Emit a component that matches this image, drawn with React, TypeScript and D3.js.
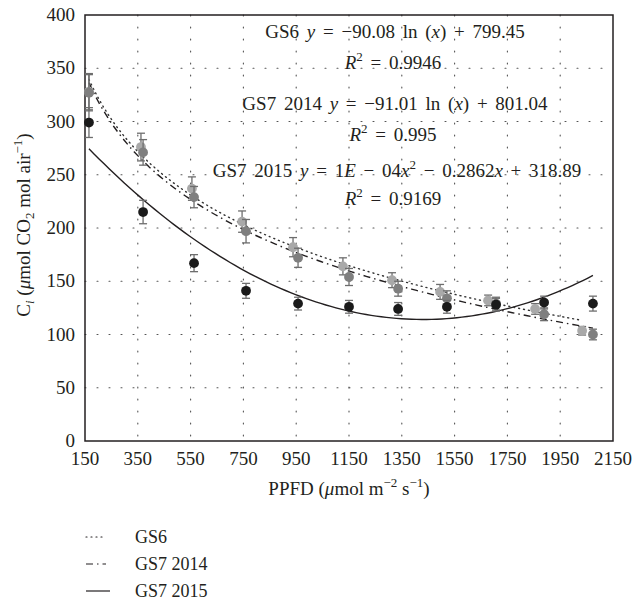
import React from "react";
import * as d3 from "d3";

const gs6X = [165, 362, 555, 745, 938, 1127, 1313, 1495, 1677, 1855, 2033];
const gs6Y = [328, 276, 237, 206, 182, 164, 151, 140, 132, 124, 103.5];
const gs6Err = [17, 13, 11, 10, 9, 8, 7, 7, 5, 5, 4];

const gs714X = [165, 370, 563, 760, 957, 1150, 1336, 1521, 1707, 1889, 2074];
const gs714Y = [327, 271, 229, 197, 172, 154, 143, 134, 129, 119, 100];
const gs714Err = [17, 12, 10, 11, 9, 8, 7, 7, 6, 6, 5];

const gs715X = [165, 370, 563, 760, 957, 1150, 1336, 1521, 1707, 1889, 2074];
const gs715Y = [299, 215, 167, 141, 129, 126, 124, 126, 128, 130, 129];
const gs715Err = [14, 11, 8, 7, 6, 6, 6, 6, 6, 6, 7];

const xTicks = [150, 350, 550, 750, 950, 1150, 1350, 1550, 1750, 1950, 2150];
const yTicks = [0, 50, 100, 150, 200, 250, 300, 350, 400];

const legendLabels = ["GS6", "GS7 2014", "GS7 2015"];

const W = 635, H = 603;
const L = 85, R = 613, T = 15, B = 441;
const FONT = "Liberation Serif";
const INK = "#231f20";

const Sup = ({ children }: { children: React.ReactNode }) => (
  <tspan fontSize={13} dy={-8}>{children}</tspan>
);

export default function App() {
  const x = d3.scaleLinear().domain([150, 2150]).range([L, R]);
  const y = d3.scaleLinear().domain([0, 400]).range([B, T]);

  const fit6 = (v: number) => -90.08 * Math.log(v) + 799.45;
  const fit714 = (v: number) => -91.01 * Math.log(v) + 801.04;
  const fit715 = (v: number) => 1e-4 * v * v - 0.2862 * v + 318.89;

  const sample = (f: (v: number) => number, a: number, b: number) =>
    d3.range(0, 101).map((i) => {
      const v = a + ((b - a) * i) / 100;
      return [v, f(v)] as [number, number];
    });
  const line = d3
    .line<[number, number]>()
    .x((d) => x(d[0]))
    .y((d) => y(d[1]));

  const series = [
    { xs: gs6X, ys: gs6Y, es: gs6Err, fill: "#a9a9a9" },
    { xs: gs714X, ys: gs714Y, es: gs714Err, fill: "#7f7f7f" },
    { xs: gs715X, ys: gs715Y, es: gs715Err, fill: "#1a1a1a" },
  ];

  const gridStyle = { stroke: "#555", strokeWidth: 1.1, strokeDasharray: "1 11", strokeLinecap: "round" as const };
  const tp = { fontFamily: FONT, fontSize: 19, fill: INK };
  const eq = { ...tp, wordSpacing: 3 };

  return (
    <svg width={W} height={H} style={{ position: "absolute", left: 0, top: 0, background: "#fff" }}>
      {yTicks.slice(1, -1).map((t) => (
        <line key={"h" + t} x1={L} x2={R} y1={y(t)} y2={y(t)} style={gridStyle} />
      ))}
      {xTicks.slice(1, -1).map((t) => (
        <line key={"v" + t} x1={x(t)} x2={x(t)} y1={T} y2={B} style={gridStyle} />
      ))}
      <rect x={L} y={T} width={R - L} height={B - T} fill="none" stroke={INK} strokeWidth={1.5} />

      {yTicks.map((t) => (
        <text key={"yt" + t} x={L - 10} y={y(t) + 6} textAnchor="end" {...tp}>
          {t}
        </text>
      ))}
      {xTicks.map((t) => (
        <text key={"xt" + t} x={x(t)} y={465} textAnchor="middle" {...tp}>
          {t}
        </text>
      ))}

      <text x={(L + R) / 2} y={495} textAnchor="middle" {...tp}>
        {"PPFD ("}<tspan fontStyle="italic">μ</tspan>{"mol m"}<Sup>−2</Sup><tspan dy={8}>{" s"}</tspan><Sup>−1</Sup><tspan dy={8}>{")"}</tspan>
      </text>
      <text transform={`translate(30, ${(T + B) / 2 - 3}) rotate(-90)`} textAnchor="middle" {...tp}>
        {"C"}<tspan fontSize={13} fontStyle="italic" dy={4}>i</tspan><tspan dy={-4}>{" ("}</tspan><tspan fontStyle="italic">μ</tspan>{"mol CO"}<tspan fontSize={13} dy={4}>2</tspan><tspan dy={-4}>{" mol air"}</tspan><Sup>−1</Sup><tspan dy={8}>{")"}</tspan>
      </text>

      <path d={line(sample(fit715, 165, 2074)) || ""} fill="none" stroke={INK} strokeWidth={1.4} />
      <path
        d={line(sample(fit6, 165, 2033)) || ""}
        fill="none"
        stroke="#333"
        strokeWidth={1.4}
        strokeDasharray="1 4"
        strokeLinecap="round"
      />
      <path
        d={line(sample(fit714, 165, 2074)) || ""}
        fill="none"
        stroke={INK}
        strokeWidth={1.4}
        strokeDasharray="7 4 1.5 4"
      />

      {series.map((s, si) => (
        <g key={"s" + si}>
          {s.xs.map((xv, i) => {
            const cx = x(xv);
            const y1 = y(s.ys[i] + s.es[i]);
            const y2 = y(s.ys[i] - s.es[i]);
            return (
              <g key={i}>
                <line x1={cx} x2={cx} y1={y1} y2={y2} stroke="#6d6d6d" strokeWidth={1.3} />
                <line x1={cx - 4} x2={cx + 4} y1={y1} y2={y1} stroke="#6d6d6d" strokeWidth={1.3} />
                <line x1={cx - 4} x2={cx + 4} y1={y2} y2={y2} stroke="#6d6d6d" strokeWidth={1.3} />
                <circle cx={cx} cy={y(s.ys[i])} r={4.9} fill={s.fill} />
              </g>
            );
          })}
        </g>
      ))}

      <text x={395} y={38} textAnchor="middle" {...eq}>
        {"GS6 "}<tspan fontStyle="italic">y</tspan>{" = −90.08 ln ("}<tspan fontStyle="italic">x</tspan>{") + 799.45"}
      </text>
      <text x={393} y={69} textAnchor="middle" {...eq}>
        <tspan fontStyle="italic">R</tspan><Sup>2</Sup><tspan dy={8}>{" = 0.9946"}</tspan>
      </text>
      <text x={395} y={110} textAnchor="middle" {...eq}>
        {"GS7 2014 "}<tspan fontStyle="italic">y</tspan>{" = −91.01 ln ("}<tspan fontStyle="italic">x</tspan>{") + 801.04"}
      </text>
      <text x={393} y={141} textAnchor="middle" {...eq}>
        <tspan fontStyle="italic">R</tspan><Sup>2</Sup><tspan dy={8}>{" = 0.995"}</tspan>
      </text>
      <text x={397} y={177} textAnchor="middle" {...eq}>
        {"GS7 2015 "}<tspan fontStyle="italic">y</tspan>{" = 1"}<tspan fontStyle="italic">E</tspan>{" − 04"}<tspan fontStyle="italic">x</tspan><Sup>2</Sup><tspan dy={8}>{" − 0.2862"}</tspan><tspan fontStyle="italic">x</tspan>{" + 318.89"}
      </text>
      <text x={393} y={205} textAnchor="middle" {...eq}>
        <tspan fontStyle="italic">R</tspan><Sup>2</Sup><tspan dy={8}>{" = 0.9169"}</tspan>
      </text>

      {legendLabels.map((lab, i) => {
        const ly = 537 + i * 27;
        const dash = i === 0 ? "1 4" : i === 1 ? "7 4 1.5 4" : undefined;
        return (
          <g key={"lg" + i}>
            <line
              x1={86}
              x2={i === 2 ? 110 : 106}
              y1={ly}
              y2={ly}
              stroke={INK}
              strokeWidth={1.2}
              strokeDasharray={dash}
              strokeLinecap={i === 0 ? "round" : "butt"}
            />
            <text x={135} y={ly + 6} {...tp} fontSize={18}>
              {lab}
            </text>
          </g>
        );
      })}
    </svg>
  );
}
